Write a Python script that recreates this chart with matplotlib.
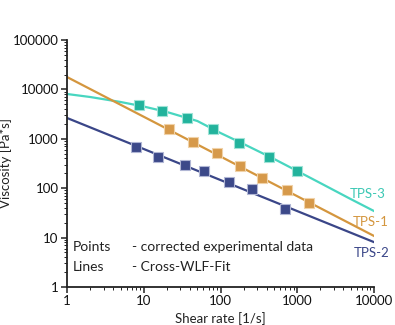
import matplotlib
matplotlib.use("Agg")
import matplotlib.pyplot as plt
from matplotlib.ticker import LogLocator, FixedLocator, NullFormatter

plt.rcParams['font.family'] = ['Lato', 'DejaVu Sans']

# Measured points (shear rate [1/s], viscosity [Pa*s])
tps3_x = [8.6, 17.1, 36.2, 78.7, 176, 433, 1000]
tps3_y = [4830, 3650, 2640, 1580, 822, 428, 223]
tps1_x = [21.4, 44, 90, 180, 349, 738, 1430]
tps1_y = [1580, 861, 516, 281, 161, 92, 50]
tps2_x = [7.9, 15.4, 34.5, 61, 129, 258, 695]
tps2_y = [682, 428, 295, 223, 134, 96, 38]

# Fit lines
fit3_x = [1, 2, 5, 10, 20, 50, 100, 200, 500, 1000, 2000, 5000, 10000]
fit3_y = [8070, 7020, 5560, 4500, 3490, 2290, 1310, 785, 390, 223, 127, 60, 34.5]
fit1_x = [1, 10000]
fit1_y = [17800, 10.8]
fit2_x = [1, 10000]
fit2_y = [2640, 8.1]

c3_line, c3_mark = '#48d6c0', '#22b39c'
c1_line, c1_mark = '#d4963e', '#d6994a'
c2_line, c2_mark = '#3a4688', '#3c4989'

fig = plt.figure(figsize=(3.95, 3.25), dpi=100)
ax = fig.add_axes([67/395, (325-287)/325, (374-67)/395, (287-40)/325])

ax.plot(fit3_x, fit3_y, color=c3_line, lw=1.6, zorder=2)
ax.plot(fit1_x, fit1_y, color=c1_line, lw=1.6, zorder=2)
ax.plot(fit2_x, fit2_y, color=c2_line, lw=1.6, zorder=2)

ms = 7
ax.plot(tps3_x, tps3_y, 's', color=c3_mark, ms=ms, mec='#9fe3d6', mew=0.8, zorder=3)
ax.plot(tps1_x, tps1_y, 's', color=c1_mark, ms=ms, mec='#f0d2a8', mew=0.8, zorder=3)
ax.plot(tps2_x, tps2_y, 's', color=c2_mark, ms=ms, mec='#b0b6d4', mew=0.8, zorder=3)

ax.set_xscale('log')
ax.set_yscale('log')
ax.set_xlim(1, 10000)
ax.set_ylim(1, 100000)

ax.xaxis.set_major_locator(FixedLocator([1, 10, 100, 1000, 10000]))
ax.yaxis.set_major_locator(FixedLocator([1, 10, 100, 1000, 10000, 100000]))
ax.set_xticklabels(['1', '10', '100', '1000', '10000'])
ax.set_yticklabels(['1', '10', '100', '1000', '10000', '100000'])
ax.xaxis.set_minor_locator(LogLocator(base=10, subs=range(2, 10), numticks=20))
ax.yaxis.set_minor_locator(LogLocator(base=10, subs=range(2, 10), numticks=20))
ax.xaxis.set_minor_formatter(NullFormatter())
ax.yaxis.set_minor_formatter(NullFormatter())

for s in ['top', 'right']:
    ax.spines[s].set_visible(False)
for s in ['left', 'bottom']:
    ax.spines[s].set_color('#222222')
    ax.spines[s].set_linewidth(1.3)

ax.tick_params(which='major', direction='out', length=4, width=1.1, colors='#222222',
               labelsize=9.5, labelcolor='#111111', pad=2)
ax.tick_params(which='minor', direction='out', length=2, width=0.7, colors='#222222')

ax.set_xlabel('Shear rate [1/s]', fontsize=9.5, color='#222222')
ax.set_ylabel('Viscosity [Pa*s]', fontsize=9.5, color='#222222')
ax.xaxis.set_label_coords((220-67)/307, (287-312)/247)
ax.yaxis.set_label_coords((12-67)/307, (287-163)/247)

def fx(px):
    return (px - 67) / 307

def fy(py):
    return (287 - py) / 247

tf = ax.transAxes
ax.text(fx(73), fy(247), 'Points', fontsize=10, color='#222222', va='center', transform=tf)
ax.text(fx(132), fy(247), '- corrected experimental data', fontsize=10, color='#222222', va='center', transform=tf)
ax.text(fx(73), fy(267), 'Lines', fontsize=10, color='#222222', va='center', transform=tf)
ax.text(fx(132), fy(267), '- Cross-WLF-Fit', fontsize=10, color='#222222', va='center', transform=tf)

ax.text(fx(386), fy(194), 'TPS-3', fontsize=9.5, color='#3cc8b4', ha='right', va='center', transform=tf, clip_on=False)
ax.text(fx(389), fy(222), 'TPS-1', fontsize=9.5, color='#d4963e', ha='right', va='center', transform=tf, clip_on=False)
ax.text(fx(389), fy(253), 'TPS-2', fontsize=9.5, color='#3a4688', ha='right', va='center', transform=tf, clip_on=False)

fig.savefig('out.png', dpi=100)
